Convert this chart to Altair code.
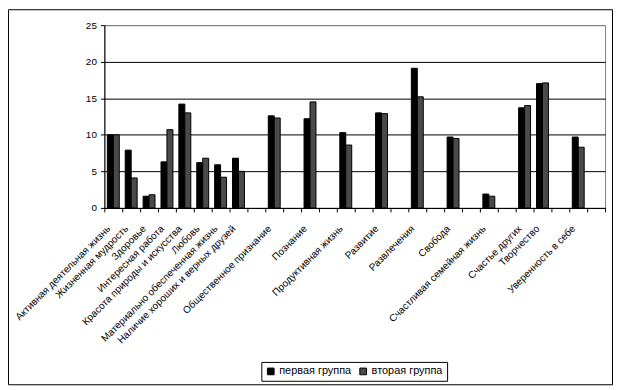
import json
import altair as alt
import pandas as pd

categories = [
    "Активная деятельная жизнь",
    "Жизненная мудрость",
    "Здоровье",
    "Интересная работа",
    "Красота природы и искусства",
    "Любовь",
    "Материально обеспеченная жизнь",
    "Наличие хороших и верных друзей",
    "",
    "Общественное признание",
    "",
    "Познание",
    "",
    "Продуктивная жизнь",
    "",
    "Развитие",
    "",
    "Развлечения",
    "",
    "Свобода",
    "",
    "Счастливая семейная жизнь",
    "",
    "Счастье других",
    "Творчество",
    "",
    "Уверенность в себе",
    "",
]
groups = ["первая группа", "вторая группа"]
first_group = [10.0, 7.9, 1.6, 6.3, 14.2, 6.2, 5.9, 6.8, None, 12.6, None, 12.2, None, 10.3,
               None, 13.0, None, 19.1, None, 9.7, None, 1.9, None, 13.7, 17.0, None, 9.7, None]
second_group = [10.0, 4.1, 1.8, 10.7, 13.0, 6.8, 4.2, 5.0, None, 12.3, None, 14.5, None, 8.6,
                None, 12.9, None, 15.2, None, 9.5, None, 1.6, None, 14.0, 17.1, None, 8.3, None]
y_ticks = [0, 5, 10, 15, 20, 25]

rows = []
for i, cat in enumerate(categories):
    for g, vals in zip(groups, [first_group, second_group]):
        if vals[i] is not None:
            rows.append({"idx": i, "group": g, "value": vals[i]})
df = pd.DataFrame(rows)

FONT = "Liberation Sans"
label_expr = json.dumps(categories, ensure_ascii=False) + "[datum.value]"

bars = alt.Chart(df).mark_bar(stroke="black", strokeWidth=1).encode(
    x=alt.X(
        "idx:O",
        scale=alt.Scale(domain=list(range(len(categories))), paddingInner=0, paddingOuter=0),
        axis=alt.Axis(
            title=None,
            labelExpr=label_expr,
            labelAngle=315,
            labelAlign="right",
            labelBaseline="middle",
            labelFont=FONT,
            labelFontSize=10,
            labelColor="black",
            labelPadding=15,
            labelOffset=-5,
            tickBand="extent",
            tickSize=4,
            tickColor="black",
            domainColor="black",
            labelOverlap=False,
            labelLimit=300,
        ),
    ),
    xOffset=alt.XOffset(
        "group:N", scale=alt.Scale(domain=groups, paddingInner=0, paddingOuter=0.5)
    ),
    y=alt.Y(
        "value:Q",
        scale=alt.Scale(domain=[0, 25], nice=False),
        axis=alt.Axis(
            title=None,
            values=y_ticks,
            labelFont=FONT,
            labelFontSize=10,
            labelColor="black",
            labelPadding=4,
            tickSize=4,
            tickColor="black",
            domainColor="black",
            grid=True,
            gridColor=alt.condition("datum.value == 25", alt.value("#808080"), alt.value("black")),
            gridOpacity=1,
        ),
    ),
    color=alt.Color(
        "group:N",
        scale=alt.Scale(domain=groups, range=["#000000", "#4a4a4a"]),
        legend=alt.Legend(
            title=None,
            orient="none",
            legendX=158,
            legendY=339,
            direction="horizontal",
            strokeColor="black",
            padding=4,
            symbolType="square",
            symbolSize=45,
            symbolStrokeColor="black",
            symbolStrokeWidth=1,
            symbolOpacity=1,
            labelFont=FONT,
            labelFontSize=11,
            labelColor="black",
            labelOffset=3,
            columnPadding=6,
        ),
    ),
)

frame = alt.Chart(alt.Data(values=[{}])).mark_rect(
    fillOpacity=0, stroke="black", strokeWidth=1
).encode(
    x=alt.value(-96.5),
    x2=alt.value(511.5),
    y=alt.value(-15.5),
    y2=alt.value(362),
)

chart = alt.layer(bars, frame).properties(
    width=504,
    height=184,
    autosize=alt.AutoSizeParams(type="none"),
    padding={"left": 97, "top": 16, "right": 9, "bottom": 179},
    background="white",
).configure_view(stroke="#808080", strokeWidth=1)

chart.save("out.html", embed_options={"renderer": "svg", "actions": False})
